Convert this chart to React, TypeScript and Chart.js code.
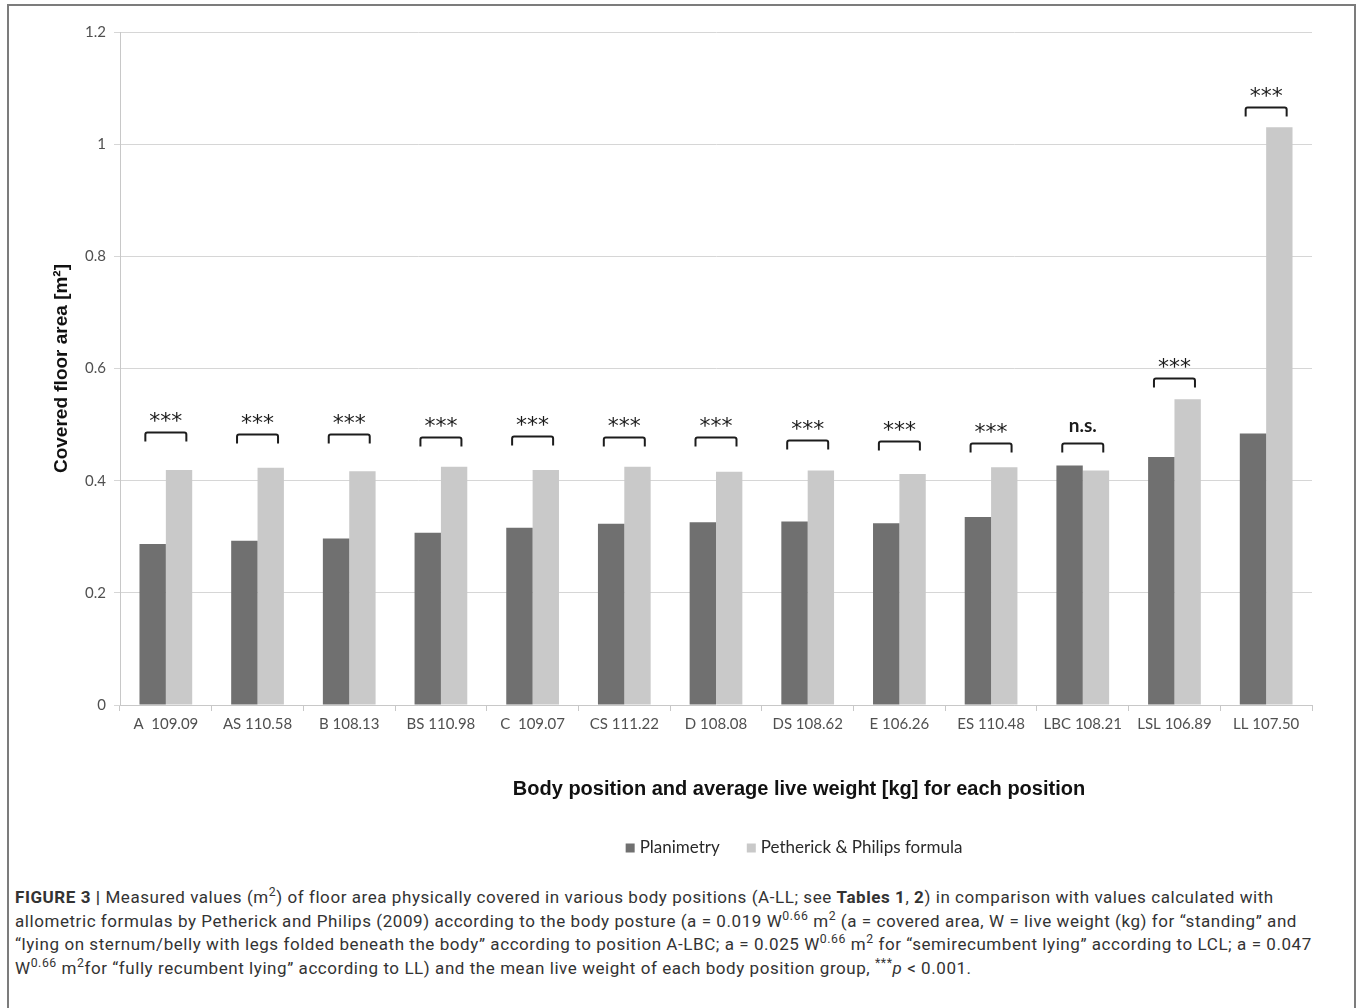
import React, { useEffect, useRef } from 'react';
import { Chart, registerables } from 'chart.js';

Chart.register(...registerables);

const categories = [
  'A  109.09', 'AS 110.58', 'B 108.13', 'BS 110.98', 'C  109.07', 'CS 111.22', 'D 108.08',
  'DS 108.62', 'E 106.26', 'ES 110.48', 'LBC 108.21', 'LSL 106.89', 'LL 107.50',
];
const planimetry = [0.287, 0.293, 0.297, 0.307, 0.316, 0.323, 0.326, 0.327, 0.324, 0.335, 0.427, 0.442, 0.484];
const formula = [0.419, 0.423, 0.417, 0.425, 0.419, 0.425, 0.416, 0.418, 0.412, 0.424, 0.418, 0.545, 1.03];
const significance = ['***', '***', '***', '***', '***', '***', '***', '***', '***', '***', 'n.s.', '***', '***'];
const bracketLevels = [0.487, 0.484, 0.484, 0.478, 0.48, 0.477, 0.477, 0.473, 0.471, 0.468, 0.468, 0.583, 1.067];
const seriesNames = ['Planimetry', 'Petherick & Philips formula'];
const yTickValues = [0, 0.2, 0.4, 0.6, 0.8, 1, 1.2];
const yTickLabels = ['0', '0.2', '0.4', '0.6', '0.8', '1', '1.2'];
const yTitle = 'Covered floor area [m²]';
const xTitle = 'Body position and average live weight [kg] for each position';

const DARK = '#707070';
const LIGHT = '#c9c9c9';
const TICK_FONT = 'Lato';

const annotationPlugin = {
  id: 'annotations',
  afterDatasetsDraw(chart: any) {
    const { ctx, scales } = chart;
    const x = scales.x;
    const y = scales.y;
    ctx.save();
    categories.forEach((_, i) => {
      const cx = x.getPixelForValue(i);
      const top = Math.round(y.getPixelForValue(bracketLevels[i])) + 0.5;
      const half = 20.5;
      const drop = 9;
      ctx.strokeStyle = '#1c1c1c';
      ctx.lineWidth = 2;
      ctx.lineJoin = 'round';
      ctx.beginPath();
      ctx.moveTo(cx - half, top + drop);
      ctx.lineTo(cx - half, top + 2);
      ctx.quadraticCurveTo(cx - half, top, cx - half + 2, top);
      ctx.lineTo(cx + half - 2, top);
      ctx.quadraticCurveTo(cx + half, top, cx + half, top + 2);
      ctx.lineTo(cx + half, top + drop);
      ctx.stroke();
      const label = significance[i];
      ctx.fillStyle = '#1c1c1c';
      ctx.textAlign = 'center';
      ctx.textBaseline = 'middle';
      if (label === 'n.s.') {
        ctx.font = 'bold 19px Lato';
        ctx.fillText(label, cx, top - 18);
      } else {
        ctx.font = '22px "DejaVu Sans"';
        ctx.fillText(label, cx, top - 10);
      }
    });
    ctx.restore();
  },
  afterDraw(chart: any) {
    const { ctx } = chart;
    ctx.save();
    // x axis title
    ctx.font = 'bold 20px "Liberation Sans"';
    ctx.fillStyle = '#111111';
    ctx.textAlign = 'center';
    ctx.textBaseline = 'middle';
    ctx.fillText(xTitle, 799, 789);
    // legend
    ctx.font = `17px ${TICK_FONT}`;
    const box = 9;
    const gapText = 5;
    const gapItem = 27;
    const colors = [DARK, LIGHT];
    const widths = seriesNames.map((n) => box + gapText + ctx.measureText(n).width);
    const total = widths.reduce((a, b) => a + b, 0) + gapItem * (widths.length - 1);
    let cursor = 794 - total / 2;
    const cy = 848;
    ctx.textAlign = 'left';
    seriesNames.forEach((n, i) => {
      ctx.fillStyle = colors[i];
      ctx.fillRect(cursor, cy - box / 2, box, box);
      ctx.fillStyle = '#2a2a2a';
      ctx.fillText(n, cursor + box + gapText, cy);
      cursor += widths[i] + gapItem;
    });
    ctx.restore();
  },
};

function BarChart() {
  const ref = useRef<HTMLCanvasElement | null>(null);
  useEffect(() => {
    if (!ref.current) return;
    const chart = new Chart(ref.current, {
      type: 'bar',
      data: {
        labels: categories,
        datasets: [
          { label: seriesNames[0], data: planimetry, backgroundColor: DARK, borderWidth: 0 },
          { label: seriesNames[1], data: formula, backgroundColor: LIGHT, borderWidth: 0 },
        ],
      },
      options: {
        responsive: false,
        animation: false,
        devicePixelRatio: 1,
        datasets: { bar: { barPercentage: 1, categoryPercentage: 0.575 } },
        layout: { padding: { left: 8, top: 32, right: 46, bottom: 145 } },
        plugins: {
          legend: { display: false },
          tooltip: { enabled: false },
        },
        scales: {
          x: {
            afterFit: (s: any) => { s.height = 30; },
            grid: {
              display: true,
              drawOnChartArea: false,
              drawTicks: true,
              tickLength: 6,
              color: '#c8c8c8',
              offset: true,
            },
            border: { display: true, color: '#c8c8c8', width: 1 },
            ticks: {
              color: '#505050',
              font: { family: TICK_FONT, size: 15 },
              padding: 4,
              maxRotation: 0,
              autoSkip: false,
            },
          },
          y: {
            min: 0,
            max: 1.2,
            afterFit: (s: any) => { s.width = 112; },
            afterBuildTicks: (s: any) => {
              s.ticks = yTickValues.map((v) => ({ value: v }));
            },
            grid: { color: '#d6d6d6', tickLength: 6, drawTicks: true },
            border: { display: true, color: '#c8c8c8', width: 1 },
            ticks: {
              color: '#505050',
              font: { family: TICK_FONT, size: 15 },
              padding: 8,
              callback: (v: any) => {
                const idx = yTickValues.findIndex((t) => Math.abs(t - Number(v)) < 1e-9);
                return idx >= 0 ? yTickLabels[idx] : '';
              },
            },
            title: {
              display: true,
              text: yTitle,
              color: '#111111',
              font: { family: 'Liberation Sans', weight: 'bold', size: 19 },
              padding: { top: 42, bottom: 0 },
            },
          },
        },
      },
      plugins: [annotationPlugin],
    } as any);
    return () => chart.destroy();
  }, []);
  return (
    <canvas
      ref={ref}
      width={1358}
      height={880}
      style={{ position: 'absolute', left: 0, top: 0, width: 1358, height: 880 }}
    />
  );
}

const supStyle: React.CSSProperties = { fontSize: '0.72em', verticalAlign: 'super', lineHeight: 0 };

export default function App() {
  return (
    <div style={{ position: 'absolute', left: 0, top: 0, width: 1358, height: 1008, overflow: 'hidden', background: '#fff' }}>
      <div
        style={{
          position: 'absolute', left: 7, top: 4, width: 1349, height: 1040,
          border: '2px solid #7c7c7c', boxSizing: 'border-box',
        }}
      />
      <BarChart />
      <div
        style={{
          position: 'absolute', left: 15, top: 886, whiteSpace: 'nowrap',
          fontFamily: 'Roboto, "Liberation Sans", sans-serif', fontSize: 17, lineHeight: '23.7px',
          letterSpacing: '0.56px', color: '#333',
        }}
      >
        <div><b>FIGURE 3 |</b> Measured values (m<span style={supStyle}>2</span>) of floor area physically covered in various body positions (A-LL; see <b>Tables 1</b>, <b>2</b>) in comparison with values calculated with</div>
        <div>allometric formulas by Petherick and Philips (2009) according to the body posture (a = 0.019 W<span style={supStyle}>0.66</span> m<span style={supStyle}>2</span> (a = covered area, W = live weight (kg) for “standing” and</div>
        <div>“lying on sternum/belly with legs folded beneath the body” according to position A-LBC; a = 0.025 W<span style={supStyle}>0.66</span> m<span style={supStyle}>2</span> for “semirecumbent lying” according to LCL; a = 0.047</div>
        <div>W<span style={supStyle}>0.66</span> m<span style={supStyle}>2</span>for “fully recumbent lying” according to LL) and the mean live weight of each body position group, <span style={supStyle}>***</span><i>p</i> &lt; 0.001.</div>
      </div>
    </div>
  );
}
